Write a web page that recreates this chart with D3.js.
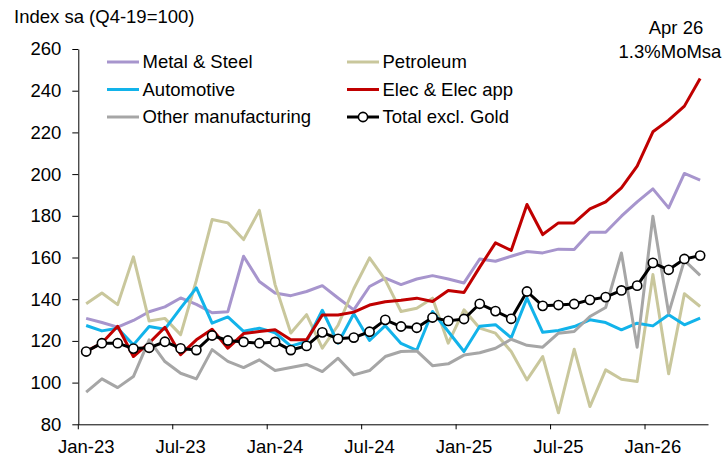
<!DOCTYPE html>
<html>
<head>
<meta charset="utf-8">
<script src="https://cdn.jsdelivr.net/npm/d3@7"></script>
<style>
  body { margin: 0; background: #fff; }
  svg { display: block; font-family: "Liberation Sans", Arial, sans-serif; }
  .axis text { font-size: 18.5px; fill: #000; }
  .axis path, .axis line { stroke: #000; stroke-width: 1; }
</style>
</head>
<body>
<div id="container"></div>
<script>
// ---------------- DATA ----------------
const months = d3.timeMonth.range(new Date(2023, 0, 1), new Date(2026, 4, 1)).map(d3.timeFormat("%b-%y"));
const yTicks = [80, 100, 120, 140, 160, 180, 200, 220, 240, 260];
const xTickLabels = ["Jan-23", "Jul-23", "Jan-24", "Jul-24", "Jan-25", "Jul-25", "Jan-26"];

const metalSteel = [130.8, 128.8, 126.6, 129.8, 134, 136.3, 140.6, 137.5, 133.5, 134, 160.6, 148.5, 143, 141.7, 143.7, 146.5, 140.6, 134.9, 146.1, 150.1, 147, 149.7, 151.3, 149.7, 147.8, 159.3, 158.2, 160.6, 162.9, 162.2, 164, 163.8, 172.1, 172.1, 179.8, 186.7, 192.9, 183.8, 200.3, 197.1];
const petroleum = [137.8, 143, 137.4, 160.3, 129.5, 130.8, 123, 149, 178.2, 176.6, 168.6, 182.6, 147, 123.8, 132.6, 116.5, 127.5, 145, 159.8, 149.3, 134.1, 135.7, 140.5, 118.9, 134.9, 126.1, 123.7, 114.9, 101.3, 112.5, 85.5, 116, 88.5, 106.1, 101.6, 100.5, 151.8, 104.2, 142.6, 136.5];
const automotive = [127.4, 124.8, 126.1, 118.1, 126.9, 125.6, 135.7, 145.4, 128.5, 131.5, 124.6, 126.1, 123.9, 117.5, 119.7, 134.7, 118.9, 133, 120.2, 127.3, 118.8, 115.5, 134.1, 124.5, 114.9, 127, 127.8, 121.5, 140.5, 124.1, 125, 126.9, 130.1, 128.8, 125.3, 128.5, 127.2, 132.5, 127.7, 130.9];
const elecApp = [115, 119, 127, 112.5, 119, 126.5, 113.4, 120.5, 125.6, 116.5, 123.5, 124.5, 125.4, 120.5, 120.5, 132.4, 132.4, 133.8, 137.2, 138.8, 139.5, 140.5, 138.9, 144.2, 143.2, 155.4, 167, 163.4, 185.4, 171, 176.6, 176.6, 183.3, 186.7, 193.4, 203.8, 220.3, 225.9, 232.6, 245.8];
const otherMfg = [95.4, 101.8, 97.6, 102.9, 120.5, 110.1, 104.5, 101.8, 115.8, 110.2, 107.2, 110.9, 105.8, 107.2, 108.7, 105.3, 111.7, 103.7, 105.8, 112.5, 114.9, 115.2, 108.1, 109, 113.2, 114.3, 116.5, 120.8, 117.9, 117, 123.7, 124.5, 131.7, 136, 162.2, 117, 179.8, 133.3, 158.6, 151.4];
const totalExGold = [114.9, 118.9, 118.9, 116.3, 116.7, 119.6, 116.4, 115.6, 122.6, 120.2, 119.5, 118.9, 119.5, 115.6, 117.6, 124.1, 121, 121.6, 124.4, 130.1, 126.9, 126.3, 131.2, 129.6, 130.5, 137.8, 134.3, 130.6, 143.7, 136.8, 137.2, 137.7, 139.7, 141, 144.2, 146.5, 157.4, 154.1, 159.3, 160.9];

const seriesNames = ["Metal & Steel", "Petroleum", "Automotive", "Elec & Elec app", "Other manufacturing", "Total excl. Gold"];
const seriesValues = [metalSteel, petroleum, automotive, elecApp, otherMfg, totalExGold];
const seriesColors = ["#a795cd", "#c9c79c", "#12b3ea", "#c00000", "#a6a6a6", "#000000"];

// ---------------- SVG ----------------
const width = 725, height = 461;
const svg = d3.select("#container").append("svg")
    .attr("width", width)
    .attr("height", height);

// scales
const x = d3.scaleBand().domain(months).range([78.3, 708]).paddingInner(0).paddingOuter(0);
const y = d3.scaleLinear().domain([80, 260]).range([424.3, 49]);
const cx = function (m) { return x(m) + x.bandwidth() / 2; };

// axes
const yAxis = d3.axisLeft(y)
    .tickValues(yTicks)
    .tickSize(6)
    .tickSizeOuter(0)
    .tickPadding(11);

svg.append("g")
    .attr("class", "axis")
    .attr("transform", "translate(78.3,0)")
    .call(yAxis);

const xAxis = d3.axisBottom(x)
    .tickValues(xTickLabels)
    .tickSize(5)
    .tickSizeOuter(0);

const gx = svg.append("g")
    .attr("class", "axis")
    .attr("transform", "translate(0,424.3)")
    .call(xAxis);
// ticks sit on the category boundaries, labels stay centred
gx.selectAll(".tick line").attr("transform", "translate(" + (-x.bandwidth() / 2) + ",0)");
gx.selectAll(".tick text").attr("y", 29).attr("dy", 0);

// lines
const line = d3.line()
    .x(function (d, i) { return cx(months[i]); })
    .y(function (d) { return y(d); });

const series = seriesNames.map(function (name, k) {
    return { name: name, values: seriesValues[k], color: seriesColors[k] };
});

svg.selectAll("path.serie")
    .data(series)
    .enter()
    .append("path")
    .attr("class", "serie")
    .attr("fill", "none")
    .attr("stroke", function (d) { return d.color; })
    .attr("stroke-width", 3)
    .attr("stroke-linejoin", "round")
    .attr("d", function (d) { return line(d.values); });

svg.selectAll("circle.total")
    .data(totalExGold)
    .enter()
    .append("circle")
    .attr("class", "total")
    .attr("cx", function (d, i) { return cx(months[i]); })
    .attr("cy", function (d) { return y(d); })
    .attr("r", 4.6)
    .attr("fill", "#fff")
    .attr("stroke", "#000")
    .attr("stroke-width", 1.6);

// legend
const legend = svg.selectAll("g.legend")
    .data(series)
    .enter()
    .append("g")
    .attr("class", "legend")
    .attr("transform", function (d, i) {
        return "translate(" + (i % 2 === 0 ? 107 : 347) + "," + (62 + Math.floor(i / 2) * 27.5) + ")";
    });

legend.append("line")
    .attr("x1", 0).attr("x2", 32)
    .attr("stroke", function (d) { return d.color; })
    .attr("stroke-width", 3);

legend.filter(function (d) { return d.name === "Total excl. Gold"; })
    .append("circle")
    .attr("cx", 16).attr("r", 4.6)
    .attr("fill", "#fff").attr("stroke", "#000").attr("stroke-width", 1.6);

legend.append("text")
    .attr("x", 35.5)
    .attr("dy", "0.35em")
    .style("font-size", "18.5px")
    .text(function (d) { return d.name; });

// title + annotation
svg.append("text")
    .attr("x", 14).attr("y", 22.5)
    .style("font-size", "18.5px")
    .text("Index sa (Q4-19=100)");

svg.append("text")
    .attr("x", 676).attr("y", 34)
    .attr("text-anchor", "middle")
    .style("font-size", "18.5px")
    .text("Apr 26");

svg.append("text")
    .attr("x", 670).attr("y", 58)
    .attr("text-anchor", "middle")
    .style("font-size", "18.5px")
    .text("1.3%MoMsa");
</script>
</body>
</html>
